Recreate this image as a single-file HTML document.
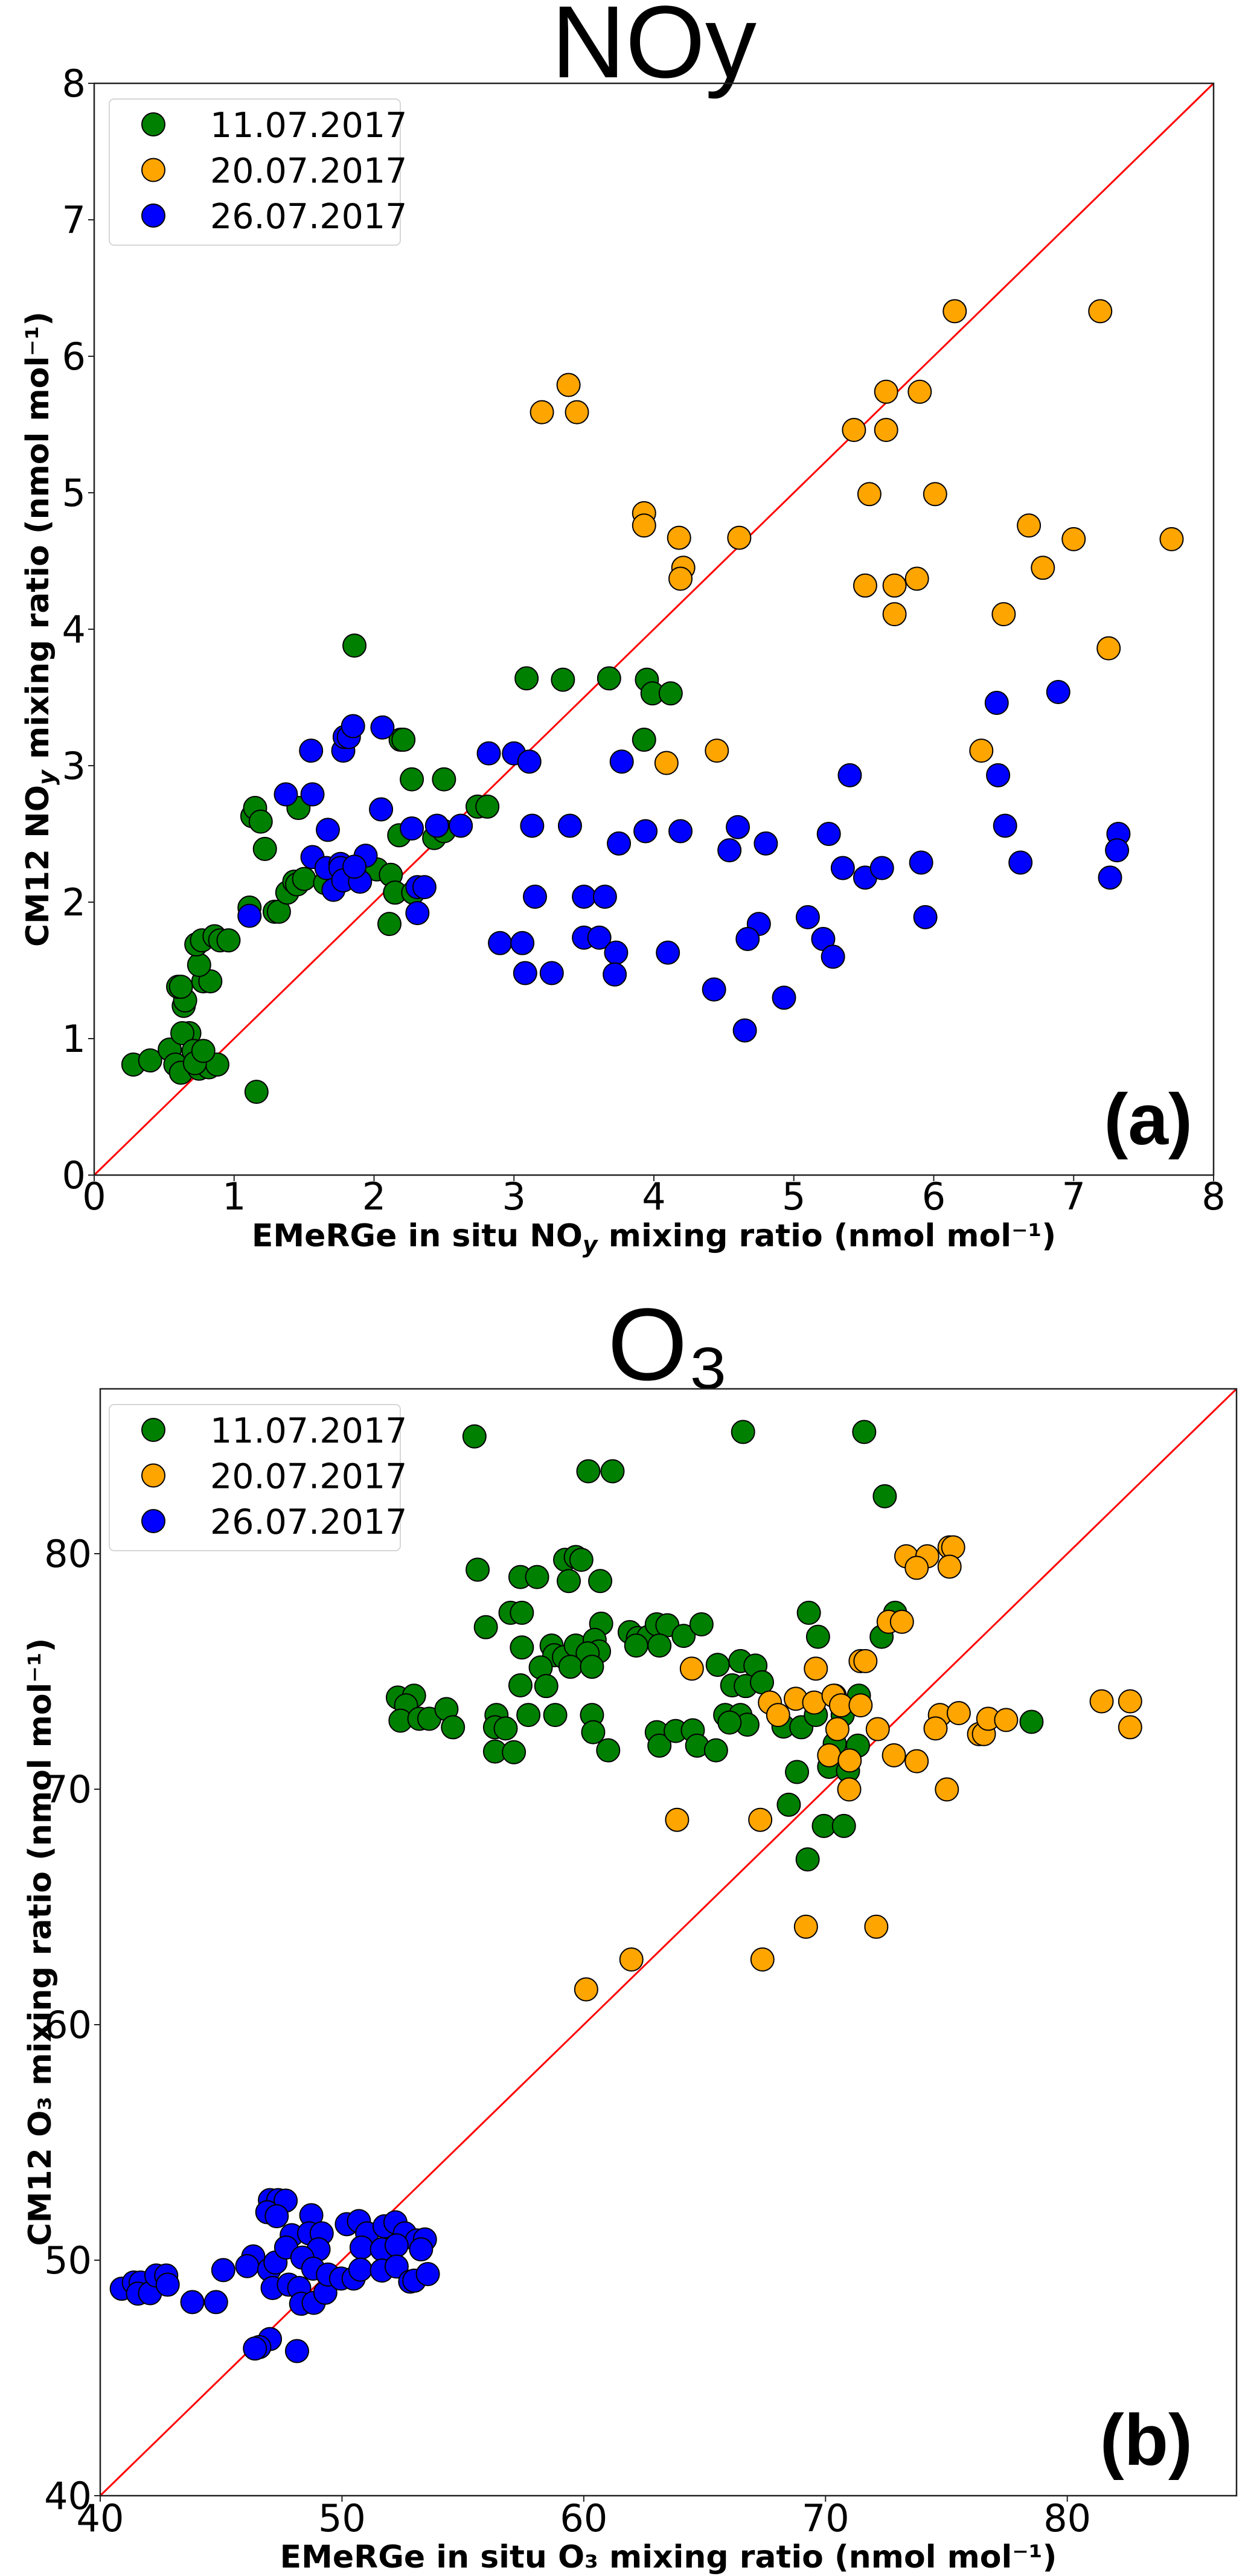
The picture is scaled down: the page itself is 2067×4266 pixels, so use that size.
<!DOCTYPE html>
<html><head><meta charset="utf-8"><style>
body{margin:0;background:#fff}
svg{display:block;font-family:"DejaVu Sans","Liberation Sans",sans-serif}
</style></head><body>
<svg id="fig" width="2067" height="4266" viewBox="0 0 2067 4266" xmlns="http://www.w3.org/2000/svg">
  <text x="1083" y="128" font-size="170" text-anchor="middle" font-family="Liberation Sans, sans-serif">NOy</text>
  <text x="1107" y="2285" font-size="170" text-anchor="middle" font-family="Liberation Sans, DejaVu Sans, sans-serif">O₃</text>
  <text x="1083" y="2064" font-size="52" font-weight="bold" text-anchor="middle">EMeRGe in situ NO<tspan font-style="italic" font-size="38" dy="10">y</tspan><tspan dy="-10"> mixing ratio (nmol mol⁻¹)</tspan></text>
  <text transform="translate(80,1042) rotate(-90)" font-size="52" font-weight="bold" text-anchor="middle">CM12 NO<tspan font-style="italic" font-size="38" dy="10">y</tspan><tspan dy="-10"> mixing ratio (nmol mol⁻¹)</tspan></text>
  <text x="1975" y="1895" font-size="120" font-weight="bold" text-anchor="end" font-family="Liberation Sans, sans-serif">(a)</text>
  <text x="1107" y="4252" font-size="52" font-weight="bold" text-anchor="middle">EMeRGe in situ O₃ mixing ratio (nmol mol⁻¹)</text>
  <text transform="translate(84,3216) rotate(-90)" font-size="52" font-weight="bold" text-anchor="middle">CM12 O₃ mixing ratio (nmol mol⁻¹)</text>
  <text x="1975" y="4082" font-size="120" font-weight="bold" text-anchor="end" font-family="Liberation Sans, sans-serif">(b)</text>
</svg>
<script>
// ---- Panel (a) NOy data ----
const noyGreenX=[0.28,0.40,0.54,0.58,0.62,0.68,0.63,0.71,0.75,0.82,0.88,0.72,0.78,1.16,0.64,0.65,0.60,0.62,0.78,0.83,0.75,0.73,0.77,0.86,0.90,0.96,1.11,1.29,1.32,1.38,1.43,1.45,1.50,1.13,1.15,1.19,1.46,1.22,1.86,2.19,2.21,1.65,2.02,2.12,2.15,2.11,2.28,2.18,2.27,2.50,2.43,2.50,2.74,2.81,3.09,3.35,3.68,3.95,3.99,4.12,3.93];
const noyGreenY=[0.81,0.84,0.92,0.81,0.75,1.04,1.04,0.91,0.78,0.79,0.81,0.82,0.91,0.61,1.24,1.28,1.38,1.38,1.42,1.42,1.54,1.69,1.72,1.75,1.72,1.72,1.96,1.93,1.93,2.07,2.15,2.13,2.17,2.63,2.69,2.59,2.69,2.39,3.88,3.19,3.19,2.14,2.24,2.20,2.07,1.84,2.07,2.49,2.90,2.90,2.47,2.52,2.70,2.70,3.64,3.63,3.64,3.63,3.53,3.53,3.19];
const noyOrangeX=[6.15,7.19,3.39,3.20,3.45,5.66,5.90,5.43,5.66,5.54,6.01,3.93,3.93,4.18,4.61,4.21,4.19,6.68,7.00,7.70,6.78,5.51,5.72,5.88,5.72,6.50,7.25,4.45,4.09,6.34];
const noyOrangeY=[6.33,6.33,5.79,5.59,5.59,5.74,5.74,5.46,5.46,4.99,4.99,4.85,4.76,4.67,4.67,4.45,4.37,4.76,4.66,4.66,4.45,4.32,4.32,4.37,4.11,4.11,3.86,3.11,3.02,3.11];
const noyBlueX=[1.11,1.37,1.56,1.55,1.78,1.79,1.82,1.85,2.06,2.05,1.67,1.56,1.66,1.76,1.76,1.71,1.78,1.90,1.94,1.86,2.27,2.45,2.62,2.31,2.36,2.31,2.82,3.00,3.11,3.13,3.40,3.15,2.90,3.06,3.08,3.27,3.50,3.65,3.50,3.61,3.73,3.72,3.77,3.75,3.94,4.19,4.10,4.43,6.45,6.89,5.40,6.46,6.51,7.32,7.31,7.26,6.62,5.91,5.25,4.60,4.54,4.80,5.35,5.51,5.63,5.94,5.10,5.21,5.28,4.75,4.67,4.93,4.65];
const noyBlueY=[1.90,2.79,2.79,3.11,3.11,3.21,3.21,3.29,3.28,2.68,2.53,2.33,2.25,2.28,2.25,2.09,2.16,2.15,2.34,2.26,2.54,2.56,2.56,2.11,2.11,1.92,3.09,3.09,3.03,2.56,2.56,2.04,1.70,1.70,1.48,1.48,2.04,2.04,1.74,1.74,1.63,1.47,3.03,2.43,2.52,2.52,1.63,1.36,3.46,3.54,2.93,2.93,2.56,2.50,2.38,2.18,2.29,2.29,2.50,2.55,2.38,2.43,2.25,2.18,2.25,1.89,1.89,1.73,1.60,1.84,1.73,1.30,1.06];
const noyTicks=[0,1,2,3,4,5,6,7,8];

// ---- Panel (b) O3 data ----
const o3GreenX=[55.48,66.59,71.60,60.19,61.19,72.45,55.61,57.38,58.07,59.23,59.67,59.90,59.38,60.68,56.97,57.44,55.95,60.72,57.44,58.67,58.78,59.18,59.67,60.45,60.63,60.16,58.22,59.45,60.34,57.38,58.45,61.90,62.24,62.68,63.02,63.46,64.13,64.87,62.17,63.13,65.54,66.48,67.10,66.14,66.70,67.37,69.31,69.69,72.88,72.32,52.31,52.98,52.65,52.42,53.20,53.61,54.32,54.59,56.39,56.33,56.77,56.33,57.11,57.71,58.82,60.34,60.39,61.01,63.02,63.13,63.80,64.51,64.69,65.47,65.85,66.48,66.77,66.03,68.26,69.00,69.60,70.38,71.38,70.71,70.38,71.34,70.15,70.93,68.82,68.48,69.93,70.76,69.26,78.52];
const o3GreenY=[84.98,85.17,85.17,83.50,83.50,82.44,79.32,79.01,79.01,79.74,79.86,79.74,78.84,78.84,77.49,77.49,76.88,77.03,76.02,76.10,75.69,75.61,76.10,76.34,75.85,75.77,75.17,75.20,75.20,74.41,74.38,76.67,76.42,76.47,77.00,76.96,76.51,77.00,76.10,76.10,75.28,75.44,75.25,74.41,74.38,74.54,77.49,76.47,77.49,76.47,73.89,73.97,73.56,72.91,72.99,72.99,73.40,72.63,73.15,72.63,72.58,71.60,71.57,73.15,73.15,73.15,72.42,71.65,72.42,71.85,72.47,72.50,71.85,71.65,73.15,73.15,72.74,72.83,72.66,72.63,73.15,73.97,73.97,73.15,71.93,71.85,70.95,70.78,70.73,69.34,68.44,68.44,67.02,72.86];
const o3OrangeX=[73.34,74.21,73.77,75.13,75.28,75.13,72.61,73.16,71.45,71.65,64.47,69.60,67.70,68.77,69.53,70.33,70.64,71.45,68.04,70.49,72.16,70.15,71.00,72.83,73.77,70.98,75.02,74.73,75.51,74.55,76.35,76.55,76.73,77.47,81.42,82.60,82.60,63.86,67.30,69.19,72.10,61.97,67.39,60.10];
const o3OrangeY=[79.89,79.89,79.40,80.27,80.27,79.45,77.11,77.11,75.44,75.44,75.12,75.12,73.68,73.84,73.68,73.97,73.56,73.56,73.15,72.55,72.55,71.44,71.22,71.44,71.19,69.99,69.99,73.15,73.23,72.58,72.34,72.34,72.99,72.94,73.73,73.73,72.63,68.70,68.70,64.16,64.16,62.77,62.77,61.50];
const o3BlueX=[40.89,41.39,41.67,41.56,42.06,42.32,42.73,42.79,43.81,44.79,45.09,46.33,46.08,46.99,47.25,47.02,47.36,47.67,46.91,47.30,48.73,47.92,48.64,49.16,47.69,49.03,48.36,48.81,47.13,47.80,48.23,48.31,48.83,49.31,49.42,49.96,50.48,50.20,50.70,51.04,50.81,51.76,52.21,52.60,53.10,53.43,51.65,52.26,53.27,50.76,51.65,52.26,52.82,52.99,53.55,47.02,46.58,48.14,46.40];
const o3BlueY=[48.79,49.05,49.05,48.58,48.60,49.35,49.35,48.96,48.22,48.22,49.58,50.16,49.75,49.60,49.90,52.55,52.55,52.53,52.04,51.87,51.91,51.06,51.14,51.14,50.54,50.46,50.11,49.64,48.82,48.96,48.82,48.15,48.19,48.62,49.39,49.22,49.22,51.53,51.66,51.14,50.54,51.44,51.61,51.14,50.84,50.88,50.46,50.63,50.46,49.60,49.56,49.73,49.09,49.13,49.41,46.65,46.31,46.14,46.25];
const o3Ticks=[40,50,60,70,80];
const legendLabels=["11.07.2017","20.07.2017","26.07.2017"];
const seriesColors=["green","orange","blue"];

const NS="http://www.w3.org/2000/svg";
const svg=document.getElementById('fig');
function mk(tag,attrs,parent){const e=document.createElementNS(NS,tag);for(const k in attrs)e.setAttribute(k,attrs[k]);(parent||svg).appendChild(e);return e;}

function panel(cfg){
  const g=mk('g',{});
  
  
  const sx=v=>cfg.x0+(v-cfg.min)/(cfg.max-cfg.min)*(cfg.x1-cfg.x0);
  const sy=v=>cfg.y0-(v-cfg.min)/(cfg.max-cfg.min)*(cfg.y0-cfg.y1);
  const ln=mk('line',{x1:sx(cfg.min),y1:sy(cfg.min),x2:sx(cfg.max),y2:sy(cfg.max),stroke:'#ff0000','stroke-width':3},g);
  
  
  const sets=[[cfg.gx,cfg.gy],[cfg.ox,cfg.oy],[cfg.bx,cfg.by]];
  sets.forEach((s,si)=>{
    const sg=mk('g',{},g);
    
    
    s[0].forEach((xv,i)=>{
      const c=mk('circle',{cx:sx(xv),cy:sy(s[1][i]),r:19,fill:seriesColors[si],stroke:'#000','stroke-width':2},sg);
      
      
    });
  });
  const fr=mk('rect',{x:cfg.x0,y:cfg.y1,width:cfg.x1-cfg.x0,height:cfg.y0-cfg.y1,fill:'none',stroke:'#222','stroke-width':2.5},g);
  
  
  cfg.ticks.forEach(t=>{
    mk('line',{x1:sx(t),y1:cfg.y0,x2:sx(t),y2:cfg.y0+10,stroke:'#222','stroke-width':2},g);
    const tx=mk('text',{x:sx(t),y:cfg.xtb,'font-size':62,'text-anchor':'middle'},g);
    tx.textContent=t;
    
    
    mk('line',{x1:cfg.x0-10,y1:sy(t),x2:cfg.x0,y2:sy(t),stroke:'#222','stroke-width':2},g);
    const ty=mk('text',{x:cfg.x0-14,y:sy(t)+22,'font-size':62,'text-anchor':'end'},g);
    ty.textContent=t;
    
    
  });
  const lg=mk('g',{},g);
  
  
  const ly=cfg.y1+26;
  mk('rect',{x:181,y:ly,width:482,height:242,rx:8,fill:'#fff','fill-opacity':0.85,stroke:'#d6d6d6','stroke-width':2},lg);
  legendLabels.forEach((lab,i)=>{
    const cy=ly+42+i*75.5;
    const m=mk('circle',{cx:254,cy:cy,r:19,fill:seriesColors[i],stroke:'#000','stroke-width':2},lg);
    
    
    const t=mk('text',{x:348,y:cy+21,'font-size':57},lg);
    t.textContent=lab;
    
    
  });
  return g;
}

panel({name:'noy-panel',x0:156,x1:2010,y0:1946,y1:138,min:0,max:8,ticks:noyTicks,xtb:2003,
  gx:noyGreenX,gy:noyGreenY,ox:noyOrangeX,oy:noyOrangeY,bx:noyBlueX,by:noyBlueY});
panel({name:'o3-panel',x0:166,x1:2048,y0:4133,y1:2300,min:40,max:87,ticks:o3Ticks,xtb:4192,
  gx:o3GreenX,gy:o3GreenY,ox:o3OrangeX,oy:o3OrangeY,bx:o3BlueX,by:o3BlueY});
</script>
</body></html>
